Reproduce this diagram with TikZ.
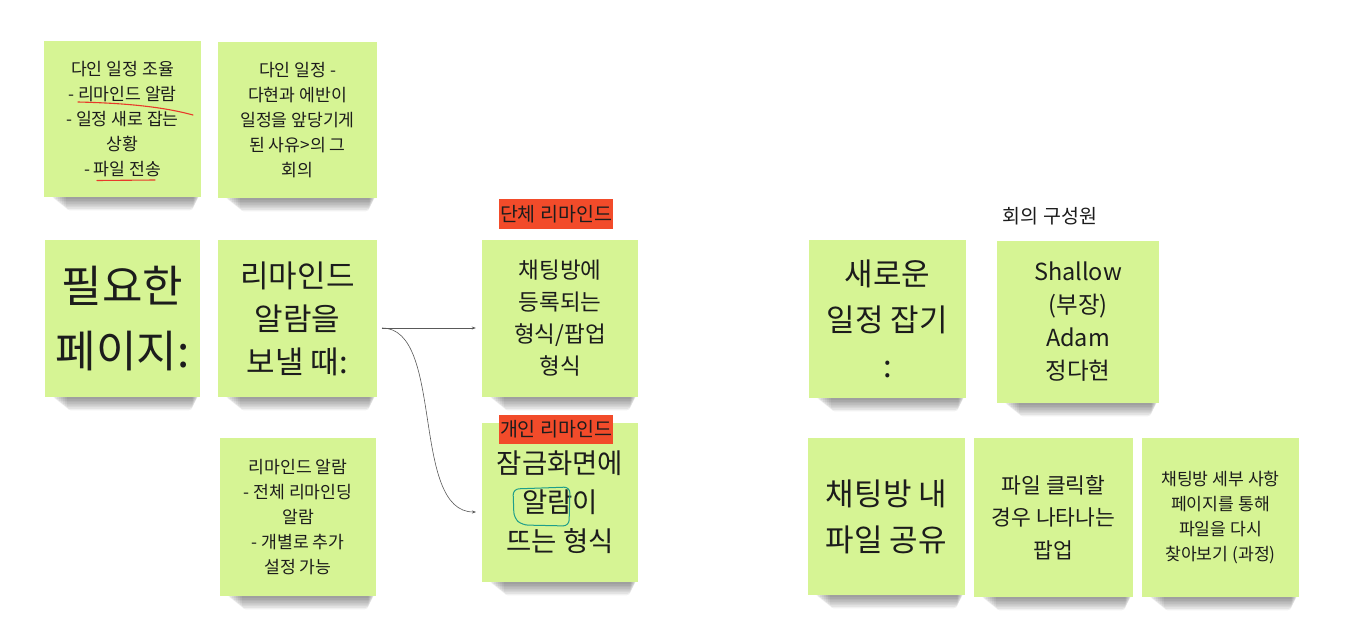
\documentclass[tikz,border=0pt]{standalone}
\usepackage{fontspec}
\setmainfont{Noto Sans CJK KR}
\usetikzlibrary{arrows.meta,calc,backgrounds}
\definecolor{notecol}{HTML}{D6F494}
\definecolor{txt}{HTML}{1C1C1C}
\definecolor{tagred}{HTML}{F24B2A}
\definecolor{penred}{HTML}{E8392A}
\definecolor{penteal}{HTML}{1E9E8A}
\tikzset{
  note/.style={fill=notecol, inner sep=0pt, align=center, text=txt},
  small/.style={font=\fontsize{17.2}{25}\selectfont},
  tag/.style={fill=tagred, inner sep=0pt, text=txt, minimum width=114pt, minimum height=30pt,
    font=\fontsize{19.5}{22}\selectfont},
  conn/.style={draw=black!65, line width=0.6pt, -{Stealth[length=4pt,width=3pt]}},
}
\begin{document}
\begin{tikzpicture}[x=1pt,y=-1pt]
\useasboundingbox (0,0) rectangle (1358,642);

\node[note, small, minimum width=157pt, minimum height=156pt] (a) at (122.5,119)
  {다인 일정 조율\\- 리마인드 알람\\- 일정 새로 잡는\\상황\\- 파일 전송};
\node[note, small, minimum width=159pt, minimum height=156pt] (b) at (297.5,120)
  {다인 일정 -\\다현과 에반이\\일정을 앞당기게\\된 사유>의 그\\회의};
\node[note, minimum width=155pt, minimum height=157pt, font=\fontsize{44}{65}\selectfont] (c) at (122.5,318.5)
  {필요한\\페이지:};
\node[note, minimum width=159pt, minimum height=157pt, font=\fontsize{31}{43}\selectfont] (d) at (297.5,318.5)
  {리마인드\\알람을\\보낼 때:};
\node[note, small, minimum width=156pt, minimum height=158pt] (e) at (298,517)
  {리마인드 알람\\- 전체 리마인딩\\알람\\- 개별로 추가\\설정 가능};
\node[note, minimum width=156pt, minimum height=157pt, font=\fontsize{22.5}{32}\selectfont] (f) at (560,318.5)
  {채팅방에\\등록되는\\형식/팝업\\형식};
\node[note, minimum width=156pt, minimum height=159pt, font=\fontsize{27.5}{39}\selectfont] (g) at (560,502.5)
  {잠금화면에\\알람이\\뜨는 형식};
\node[note, minimum width=157pt, minimum height=158pt, font=\fontsize{31}{46}\selectfont] (h) at (887.5,319)
  {새로운\\일정 잡기\\:};
\node[note, minimum width=162pt, minimum height=162pt, font=\fontsize{23.5}{33}\selectfont] (i) at (1078,322)
  {Shallow\\(부장)\\Adam\\정다현};
\node[note, minimum width=157pt, minimum height=157pt, font=\fontsize{31}{46}\selectfont] (j) at (886.5,516.5)
  {채팅방 내\\파일 공유};
\node[note, minimum width=159pt, minimum height=159pt, font=\fontsize{21.5}{32.5}\selectfont] (k) at (1053.5,517.5)
  {파일 클릭할\\경우 나타나는\\팝업};
\node[note, small, minimum width=157pt, minimum height=159pt] (l) at (1220.5,517.5)
  {채팅방 세부 사항\\페이지를 통해\\파일을 다시\\찾아보기 (과정)};

\node[tag] (tagA) at (556,214) {단체 리마인드};
\node[tag, minimum height=29pt] (tagB) at (556,429.5) {개인 리마인드};
\node[text=txt, font=\fontsize{19.5}{22}\selectfont] (members) at (1050,216) {회의 구성원};

% shadows and page background
\begin{scope}[on background layer]
  \fill[white] (0,0) rectangle (1358,642);
  \foreach \n in {a,b,c,d,e,f,g,h,i,j,k,l}{
    \foreach \k in {0,...,7}{
      \fill[black, opacity=0.055, rounded corners=4pt]
        ($(\n.south west)+(8+2*\k,-4)$) rectangle ($(\n.south east)+(-2-0.8*\k,2+1.6*\k)$);
    }
  }
\end{scope}

% pen marks
\draw[penred, line width=1.1pt, line cap=round] (78,102) .. controls (120,103) and (160,106) .. (193,115);
\draw[penred, line width=1.1pt, line cap=round] (97,180.5) -- (155,180);
\draw[penteal, line width=1pt, line cap=round, rounded corners=6pt]
  (513,489) -- (570,487) -- (569,526) -- (522,525) -- (514,518) -- cycle;

% connectors
\coordinate (src) at (382,328);
\coordinate (dstB) at (476,512);
\draw[conn] (src) -- (src -| f.west) [shorten >=6pt];
\draw[conn] (src) .. controls (445,328) and (410,512) .. (dstB);
\end{tikzpicture}
\end{document}
